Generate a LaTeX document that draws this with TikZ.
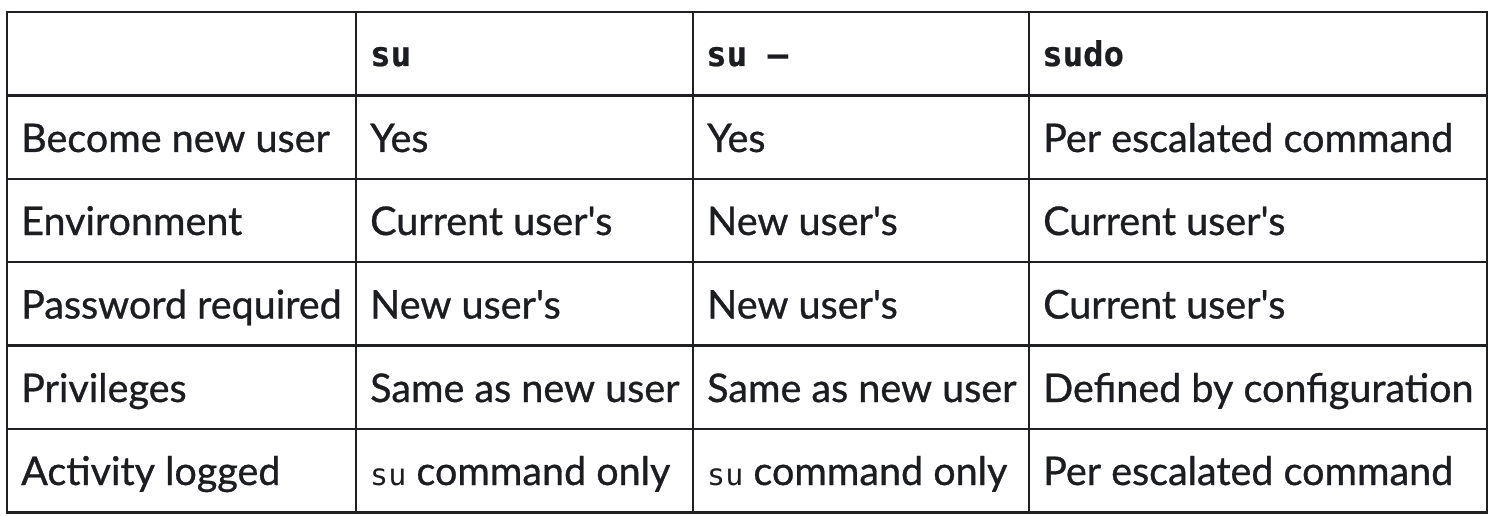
\documentclass[tikz,border=0pt]{standalone}
\usepackage{fontspec}
\setmainfont{Lato}[Ligatures=TeXOff,FakeBold=0.8]
\newfontfamily\monofont{DejaVu Sans Mono}
\newfontfamily\headmono{DejaVu Sans Mono Bold}[FakeBold=0.6]
\definecolor{ink}{HTML}{1B1D21}
\definecolor{rule}{HTML}{1F2024}
\begin{document}
\begin{tikzpicture}[x=1pt,y=-1pt,
  cell/.style={anchor=base west,inner sep=0pt,text=ink,font=\fontsize{39.5}{46}\selectfont},
  head/.style={anchor=base west,inner sep=0pt,text=ink,font=\headmono\fontsize{34}{40}\selectfont},
  grid/.style={draw=rule,line width=2.2pt}]
\useasboundingbox (0,0) rectangle (1502,516);
% grid
\draw[grid] (7,12) rectangle (1487,512.5);
\foreach \y in {95.5,179,262,345.5,429} \draw[grid] (7,\y) -- (1487,\y);
\foreach \x in {356,693,1029} \draw[grid] (\x,12) -- (\x,512.5);
% header
\node[head] (h1) at (370,66) {su};
\node[head] (h2) at (706,66) {su \textendash};
\node[head] (h3) at (1042,66) {sudo};
% rows
\node[cell] (r1a) at (21,152) {Become new user};
\node[cell] (r1b) at (370,152) {Yes};
\node[cell] (r1c) at (707,152) {Yes};
\node[cell] (r1d) at (1043,152) {Per escalated command};
\node[cell] (r2a) at (21,235) {Environment};
\node[cell] (r2b) at (370,235) {Current user's};
\node[cell] (r2c) at (707,235) {New user's};
\node[cell] (r2d) at (1043,235) {Current user's};
\node[cell] (r3a) at (21,318.5) {Password required};
\node[cell] (r3b) at (370,318.5) {New user's};
\node[cell] (r3c) at (707,318.5) {New user's};
\node[cell] (r3d) at (1043,318.5) {Current user's};
\node[cell] (r4a) at (21,402) {Privileges};
\node[cell] (r4b) at (370,402) {Same as new user};
\node[cell] (r4c) at (707,402) {Same as new user};
\node[cell] (r4d) at (1043,402) {Defined by configuration};
\node[cell] (r5a) at (21,485) {Activity logged};
\node[cell] (r5b) at (370,485) {{\monofont\fontsize{30}{36}\selectfont su} command only};
\node[cell] (r5c) at (707,485) {{\monofont\fontsize{30}{36}\selectfont su} command only};
\node[cell] (r5d) at (1043,485) {Per escalated command};
\end{tikzpicture}
\end{document}
